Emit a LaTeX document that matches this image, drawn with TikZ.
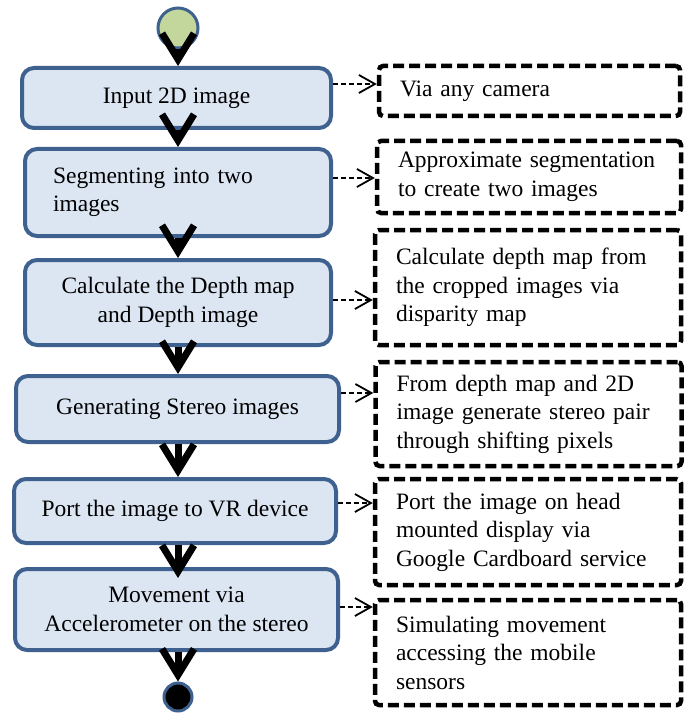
\documentclass[tikz,border=0pt]{standalone}
\usepackage{fontspec}
\setmainfont{Liberation Serif}
\usepackage{xcolor}
\usepackage{tikz}
\usetikzlibrary{arrows.meta,calc}
\definecolor{stepfill}{RGB}{220,230,242}
\definecolor{stepline}{RGB}{62,97,143}
\definecolor{startgreen}{RGB}{195,214,155}

\begin{document}
\begin{tikzpicture}[x=1pt, y=-1pt,
    every node/.style={font=\fontsize{23.5}{28.5}\selectfont},
    process/.style={draw=stepline, fill=stepfill, line width=4pt, rounded corners=12pt, align=center, inner sep=0pt},
    remark/.style={draw=black, line width=4.5pt, dash pattern=on 11pt off 5pt, rounded corners=4pt, align=left, text width=264pt, inner xsep=21pt, inner ysep=0pt},
    flow/.style={line width=7pt, -{Straight Barb[length=26pt,width=32pt]}},
    link/.style={line width=1.8pt, dash pattern=on 5pt off 3pt, -{Straight Barb[length=16pt,width=18pt]}}]
    \useasboundingbox (0,0) rectangle (689,714);

    % start and end
    \node[circle, draw=stepline, fill=startgreen, line width=3pt, minimum size=40pt, inner sep=0pt] (start) at (178,28) {};
    \node[circle, draw=stepline, fill=black, line width=3pt, minimum size=28pt, inner sep=0pt] (finish) at (178,697) {};

    % steps
    \node[process, minimum width=309pt, minimum height=60pt] (b1) at (176.5,98) {Input 2D image};
    \node[process, minimum width=306pt, minimum height=87pt, text width=250pt, align=left] (b2) at (178,192.5) {Segmenting into two\\images};
    \node[process, minimum width=306pt, minimum height=85pt] (b3) at (178,302.5) {Calculate the Depth map\\and Depth image};
    \node[process, minimum width=323pt, minimum height=66pt] (b4) at (177.5,409) {Generating Stereo images};
    \node[process, minimum width=322pt, minimum height=64pt] (b5) at (175,511) {Port the image to VR device};
    \node[process, minimum width=323pt, minimum height=81pt] (b6) at (176.5,609.5) {Movement via\\Accelerometer on the stereo};

    % remarks
    \node[remark, text width=259pt, minimum height=50pt] (r1) at (529.5,91) {Via any camera};
    \node[remark, text width=262pt, minimum height=72pt] (r2) at (529,177) {Approximate segmentation\\to create two images};
    \node[remark, minimum height=115pt] (r3) at (528,287.5) {Calculate depth map from\\the cropped images via\\disparity map};
    \node[remark, minimum height=104pt] (r4) at (528.5,414) {From depth map and 2D\\image generate stereo pair\\through shifting pixels};
    \node[remark, minimum height=106pt] (r5) at (528,532) {Port the image on head\\mounted display via\\Google Cardboard service};
    \node[remark, minimum height=105pt] (r6) at (528,652.5) {Simulating movement\\accessing the mobile\\sensors};

    % flow arrows
    \draw[flow] (start) -- (start |- b1.north);
    \draw[flow] (start |- b1.south) -- (start |- b2.north);
    \draw[flow] (start |- b2.south) -- (start |- b3.north);
    \draw[flow] (start |- b3.south) -- (start |- b4.north);
    \draw[flow] (start |- b4.south) -- (start |- b5.north);
    \draw[flow] (start |- b5.south) -- ($(start |- b6.north)+(0,11)$);
    \draw[flow] (start |- b6.south) -- (finish);

    % dashed links
    \draw[link] (b1.east |- 0,84) -- (r1.west |- 0,84);
    \draw[link] (b2.east |- 0,178) -- (r2.west |- 0,178);
    \draw[link] (b3.east |- 0,300) -- (r3.west |- 0,300);
    \draw[link] (b4.east |- 0,393) -- (r4.west |- 0,393);
    \draw[link] (b5.east |- 0,503) -- (r5.west |- 0,503);
    \draw[link] (b6.east |- 0,607) -- (r6.west |- 0,607);
\end{tikzpicture}
\end{document}
